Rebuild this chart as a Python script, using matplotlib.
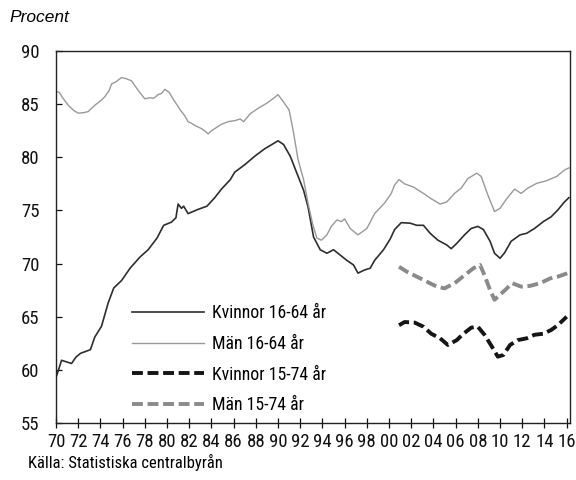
import matplotlib
matplotlib.use("Agg")
import matplotlib.pyplot as plt
from matplotlib import font_manager as fm

plt.rcParams['font.family'] = ['Liberation Sans', 'DejaVu Sans']

# ---- data ----
men1664_years = [1970.0, 1970.3, 1970.6, 1971.1, 1971.6, 1972.0, 1972.5, 1972.9, 1973.5, 1974.0,
                 1974.4, 1974.8, 1975.0, 1975.4, 1975.9, 1976.3, 1976.8, 1977.4, 1978.0, 1978.5,
                 1978.8, 1979.2, 1979.5, 1979.8, 1980.2, 1980.6, 1981.2, 1981.6, 1981.9, 1982.2,
                 1982.5, 1983.1, 1983.5, 1983.7, 1984.0, 1984.3, 1984.9, 1985.5, 1986.1, 1986.6,
                 1986.9, 1987.5, 1988.2, 1989.0, 1989.6, 1990.0, 1990.5, 1991.0, 1991.4, 1991.8,
                 1992.3, 1992.7, 1993.1, 1993.5, 1993.9, 1994.4, 1994.8, 1995.3, 1995.7, 1996.0,
                 1996.5, 1997.2, 1998.0, 1998.7, 1999.6, 2000.2, 2000.5, 2000.9, 2001.4, 2002.2,
                 2003.1, 2003.8, 2004.6, 2005.2, 2005.9, 2006.5, 2007.1, 2007.9, 2008.3, 2008.9,
                 2009.5, 2010.0, 2010.6, 2011.3, 2011.9, 2012.5, 2013.3, 2014.2, 2015.1, 2015.8,
                 2016.2]
men1664_vals = [86.2, 86.1, 85.6, 84.9, 84.4, 84.15, 84.2, 84.3, 84.9, 85.3,
                85.7, 86.3, 86.9, 87.1, 87.5, 87.4, 87.2, 86.3, 85.5, 85.6,
                85.55, 85.9, 86.0, 86.4, 86.1, 85.4, 84.45, 83.9, 83.35, 83.2,
                83.0, 82.7, 82.4, 82.2, 82.5, 82.7, 83.1, 83.35, 83.45, 83.6,
                83.35, 84.1, 84.6, 85.1, 85.55, 85.9, 85.2, 84.45, 82.3, 79.8,
                77.9, 75.7, 73.8, 72.4, 72.2, 72.7, 73.5, 74.1, 73.95, 74.2,
                73.3, 72.7, 73.3, 74.7, 75.7, 76.6, 77.4, 77.9, 77.5, 77.2,
                76.6, 76.1, 75.6, 75.8, 76.6, 77.1, 78.0, 78.5, 78.2, 76.45,
                74.9, 75.2, 76.1, 77.0, 76.6, 77.1, 77.55, 77.8, 78.2, 78.8,
                79.0]

women1664_years = [1970.0, 1970.2, 1970.5, 1970.8, 1971.4, 1971.8, 1972.2, 1973.1, 1973.5, 1974.1,
                   1974.7, 1975.2, 1975.9, 1976.7, 1977.6, 1978.3, 1979.1, 1979.7, 1980.4, 1980.8,
                   1981.0, 1981.3, 1981.5, 1981.9, 1982.8, 1983.6, 1984.3, 1984.9, 1985.7, 1986.1,
                   1987.0, 1987.9, 1988.8, 1989.6, 1990.0, 1990.5, 1991.1, 1991.7, 1992.3, 1992.7,
                   1993.2, 1993.8, 1994.4, 1995.0, 1995.6, 1996.2, 1996.8, 1997.2, 1997.8, 1998.3,
                   1998.7, 1999.5, 2000.1, 2000.5, 2001.1, 2001.9, 2002.5, 2003.1, 2003.7, 2004.4,
                   2005.2, 2005.6, 2006.1, 2006.8, 2007.4, 2008.0, 2008.5, 2009.1, 2009.5, 2010.0,
                   2010.4, 2011.0, 2011.8, 2012.4, 2013.1, 2013.9, 2014.6, 2015.2, 2015.8, 2016.2]
women1664_vals = [59.3, 59.9, 60.9, 60.8, 60.6, 61.2, 61.55, 61.9, 63.1, 64.1,
                  66.3, 67.7, 68.4, 69.6, 70.65, 71.3, 72.4, 73.6, 73.9, 74.3,
                  75.6, 75.2, 75.4, 74.7, 75.1, 75.4, 76.2, 77.0, 77.9, 78.6,
                  79.3, 80.1, 80.8, 81.3, 81.55, 81.2, 80.1, 78.5, 76.9, 75.35,
                  72.5, 71.3, 70.97, 71.3, 70.8, 70.3, 69.87, 69.1, 69.4, 69.56,
                  70.3, 71.3, 72.3, 73.2, 73.85, 73.8, 73.6, 73.6, 72.85, 72.2,
                  71.75, 71.4, 71.9, 72.7, 73.3, 73.5, 73.2, 72.1, 70.97, 70.5,
                  71.0, 72.1, 72.7, 72.85, 73.3, 73.95, 74.4, 75.04, 75.8, 76.2]

women1574_years = [2000.9, 2001.4, 2002.3, 2003.1, 2003.8, 2004.6, 2005.3, 2006.1, 2006.7, 2007.4,
                   2008.0, 2008.6, 2009.2, 2009.8, 2010.3, 2010.9, 2011.6, 2012.4, 2013.1, 2013.9,
                   2014.6, 2015.2, 2016.0]
women1574_vals = [64.2, 64.5, 64.45, 64.06, 63.4, 62.97, 62.34, 62.8, 63.4, 63.97,
                  64.06, 63.3, 62.3, 61.24, 61.4, 62.34, 62.8, 62.97, 63.3, 63.4,
                  63.75, 64.2, 65.0]

men1574_years = [2000.9, 2001.6, 2002.5, 2003.4, 2004.3, 2005.0, 2005.9, 2006.8, 2007.6, 2008.2,
                 2008.6, 2009.1, 2009.5, 2010.3, 2011.1, 2011.9, 2012.7, 2013.6, 2014.5, 2015.2,
                 2016.1]
men1574_vals = [69.7, 69.24, 68.77, 68.3, 67.83, 67.67, 68.15, 68.9, 69.56, 69.87,
                68.9, 67.5, 66.6, 67.36, 68.15, 67.83, 67.9, 68.15, 68.6, 68.77,
                69.1]

labels = ["Kvinnor 16-64 år", "Män 16-64 år", "Kvinnor 15-74 år", "Män 15-74 år"]
tick_years = list(range(1970, 2017, 2))
tick_labels = [f"{y % 100:02d}" for y in tick_years]
y_ticks = [55, 60, 65, 70, 75, 80, 85, 90]


# ---- pick a condensed sans font if one is installed ----
def _is_regular(f):
    w = f.weight
    try:
        w = int(w)
    except (TypeError, ValueError):
        w = {'normal': 400, 'regular': 400, 'book': 400, 'medium': 500}.get(str(w).lower(), 700)
    return f.style == 'normal' and 350 <= w <= 450


def pick_condensed():
    entries = fm.fontManager.ttflist
    prefs = ['Liberation Sans Narrow', 'Roboto Condensed', 'Noto Sans Condensed',
             'Open Sans Condensed', 'Noto Sans Display Condensed', 'DejaVu Sans Condensed']
    for p in prefs:
        for f in entries:
            if f.name == p and _is_regular(f):
                return f.fname
    best = None
    for f in entries:
        nm = f.name.lower()
        if 'mono' in nm or 'serif' in nm or 'cjk' in nm:
            continue
        if not _is_regular(f):
            continue
        st = str(f.stretch).lower()
        fn = f.fname.lower()
        if st in ('condensed', 'extra-condensed', 'semi-condensed') or 'condensed' in fn or 'narrow' in fn:
            if 'semi' in fn or 'semi' in st:
                rank = 2
            elif 'extra' in fn or 'extra' in st:
                rank = 1
            else:
                rank = 0
            if best is None or rank < best[0]:
                best = (rank, f.fname)
    return best[1] if best else None


cond_path = pick_condensed()
if cond_path:
    tick_fp = fm.FontProperties(fname=cond_path, size=13.5)
    leg_fp = fm.FontProperties(fname=cond_path, size=12.8)
    src_fp = fm.FontProperties(fname=cond_path, size=12)
else:
    tick_fp = fm.FontProperties(family=['Liberation Sans', 'DejaVu Sans'], size=11.5)
    leg_fp = fm.FontProperties(family=['Liberation Sans', 'DejaVu Sans'], size=11)
    src_fp = fm.FontProperties(family=['Liberation Sans', 'DejaVu Sans'], size=10.5)

# ---- figure ----
fig = plt.figure(figsize=(5.76, 4.8), dpi=100)
ax = fig.add_axes([56/576, 1 - 423/480, 514/576, 372/480])

ax.plot(women1664_years, women1664_vals, color='#2e2e2e', lw=1.2, label=labels[0])
ax.plot(men1664_years, men1664_vals, color='#999999', lw=1.0, label=labels[1])
ax.plot(women1574_years, women1574_vals, color='#151515', lw=2.8, dashes=(2.8, 1.2),
        label=labels[2])
ax.plot(men1574_years, men1574_vals, color='#8a8a8a', lw=2.8, dashes=(2.8, 1.2),
        label=labels[3])

ax.set_xlim(1970, 2016.3)
ax.set_ylim(55, 90)
ax.set_xticks(tick_years)
ax.set_xticklabels(tick_labels)
ax.set_yticks(y_ticks)
ax.set_yticklabels([str(v) for v in y_ticks])
for lbl in ax.get_xticklabels() + ax.get_yticklabels():
    lbl.set_fontproperties(tick_fp)
    lbl.set_color('#111111')

ax.tick_params(axis='x', direction='inout', length=7, width=0.9, pad=4, colors='#111111')
ax.tick_params(axis='y', direction='in', length=4, width=0.9, pad=12, colors='#111111')
for s in ax.spines.values():
    s.set_linewidth(1.0)
    s.set_color('#222222')

leg = ax.legend(loc='upper left', bbox_to_anchor=(0.147, 0.32), frameon=False,
                borderpad=0, borderaxespad=0, handlelength=4.1, handletextpad=0.45,
                labelspacing=0.72, prop=leg_fp)

fig.text(9/576, 1 - 17/480, "Procent", fontsize=12.5, style='italic',
         family=['Liberation Sans', 'DejaVu Sans'], va='center', ha='left')
fig.text(28/576, 1 - 462/480, "Källa: Statistiska centralbyrån", fontproperties=src_fp,
         va='center', ha='left')

fig.savefig("out.png", dpi=100)
